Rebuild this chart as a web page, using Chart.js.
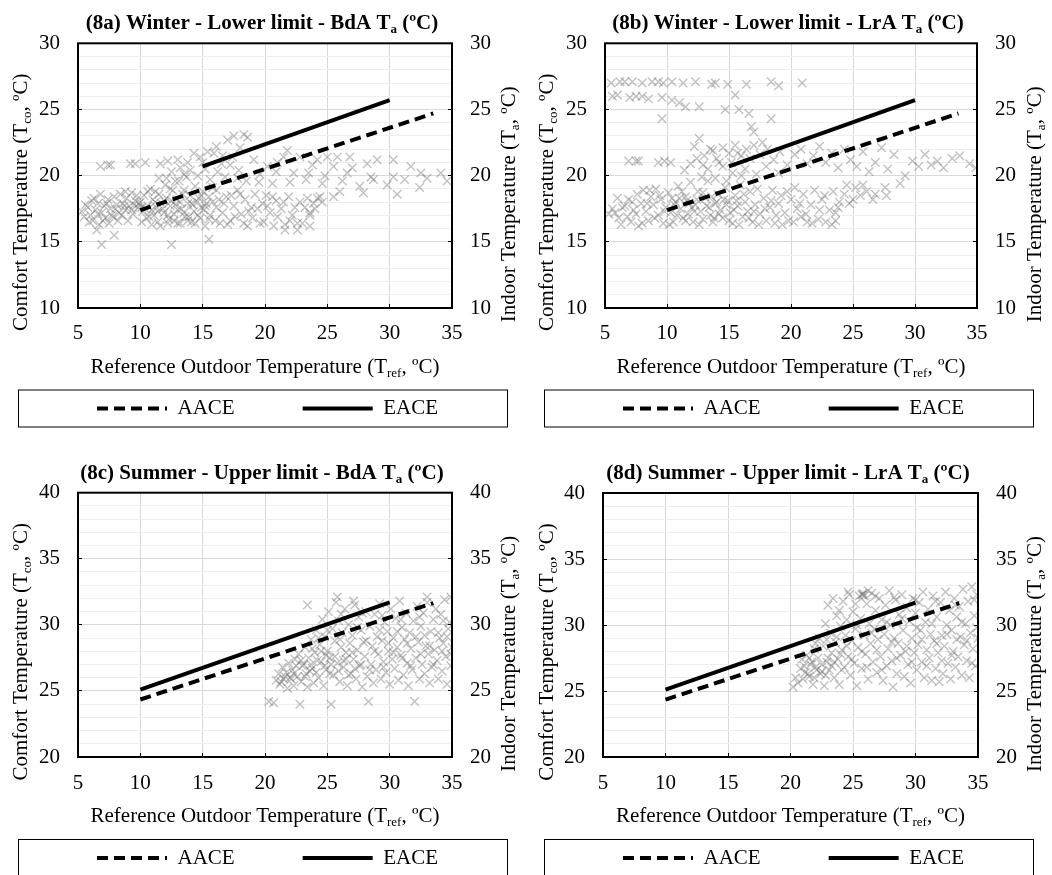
<!DOCTYPE html>
<html>
<head>
<meta charset="utf-8">
<script src="https://cdn.jsdelivr.net/npm/chart.js@4.4.0/dist/chart.umd.min.js"></script>
<style>
  html, body { margin: 0; padding: 0; background: #fff; width: 1052px; height: 875px; overflow: hidden; }
  canvas { position: absolute; }
</style>
</head>
<body>
<canvas id="c8a" width="526" height="437" style="left:0;top:0"></canvas>
<canvas id="c8b" width="526" height="437" style="left:526px;top:0"></canvas>
<canvas id="c8c" width="526" height="470" style="left:0;top:437px"></canvas>
<canvas id="c8d" width="526" height="470" style="left:526px;top:437px"></canvas>
<script>
// axis ranges / ticks
const xRange = [5, 35];
const winterRange = [10, 30];
const summerRange = [20, 40];
const seriesNames = ['AACE', 'EACE'];

// comfort limit lines (Tref, Tco)
const aaceWinter = [[10, 17.4], [33.5, 24.7]];
const eaceWinter = [[15, 20.7], [30, 25.7]];
const aaceSummer = [[10, 24.35], [33.5, 31.65]];
const eaceSummer = [[10, 25.1], [30, 31.7]];

const bdaWinter = [
  [5.3,17.3],[5.5,16.9],[5.8,17.6],[6.0,17.0],[6.2,16.6],[6.4,17.4],[6.6,17.9],[6.7,16.3],[6.9,17.2],[7.1,17.7],
  [7.2,16.8],[7.4,18.2],[7.6,17.5],[7.8,16.9],[7.9,18.4],[8.1,17.8],[8.3,17.2],[8.4,18.6],[8.6,17.9],[8.8,17.4],
  [8.9,18.3],[9.1,17.7],[9.3,18.7],[9.4,17.1],[9.6,18.1],[9.8,17.6],[6.1,18.1],[6.8,18.6],[7.5,16.4],[8.2,16.6],
  [6.5,15.9],[7.9,15.5],[6.9,14.8],[12.5,14.8],[15.5,15.2],[9.9,17.9],[9.5,17.8],[8.7,17.7],[10.1,17.6],
  [6.8,20.7],[7.4,20.8],[7.6,20.8],[9.2,20.9],[9.6,20.9],[10.4,21.0],[11.6,20.9],[12.2,21.1],[13.0,21.2],
  [10.0,18.0],[10.2,17.3],[10.3,18.5],[10.5,16.8],[10.6,17.7],[10.8,19.0],[11.0,18.2],[11.1,17.0],[11.3,17.6],[11.4,16.5],
  [11.5,18.6],[11.7,17.9],[11.9,17.2],[12.0,19.3],[12.1,18.3],[12.3,16.7],[12.4,17.7],[12.6,18.9],[12.7,17.1],[12.9,18.2],
  [13.0,16.4],[13.1,19.6],[13.3,17.5],[13.4,18.6],[13.6,16.9],[13.7,19.9],[13.8,17.9],[14.0,18.5],[14.1,16.5],[14.3,17.3],
  [14.4,19.2],[14.6,18.0],[14.8,16.8],[14.9,17.6],[15.0,18.8],[15.2,16.2],[15.3,17.9],[15.5,18.4],[15.6,17.0],[15.8,19.1],
  [16.0,16.6],[16.1,17.6],[16.3,18.2],[10.9,17.4],[11.8,17.5],[12.8,17.8],[13.5,17.2],[14.2,17.8],[14.7,18.3],[11.2,18.0],
  [10.7,16.9],[12.2,17.0],[13.9,16.9],[15.1,17.4],[12.5,18.1],[13.2,18.0],
  [5.6,17.8],[5.9,16.5],[6.3,18.3],[6.6,17.1],[7.0,16.6],[7.3,17.9],[7.7,17.0],[8.0,17.5],[8.5,17.0],[8.8,18.8],
  [9.0,16.6],[9.3,17.4],[9.7,18.5],[10.1,16.5],[10.4,17.5],[10.6,18.8],[10.9,16.3],[11.2,18.8],[11.4,17.3],[11.6,16.2],
  [11.9,18.1],[12.2,16.4],[12.4,19.0],[12.7,16.6],[13.0,17.4],[13.2,16.4],[13.5,18.9],[13.8,16.6],[14.1,17.9],[14.4,16.4],
  [14.6,17.0],[14.9,18.5],[15.2,17.7],[15.5,16.7],[15.8,18.0],[16.1,18.9],[16.4,16.4],[16.7,17.9],[17.0,16.3],[17.3,18.5],
  [17.6,16.9],[18.0,18.6],[18.3,16.4],[18.7,17.3],[19.0,16.8],[19.4,17.5],[19.9,16.5],[20.2,17.7],[20.6,18.4],[21.0,16.9],
  [21.5,18.0],[22.0,16.6],[22.4,17.6],[23.0,16.4],[23.4,18.3],[24.0,17.5],[24.6,18.0],
  [11.5,19.8],[12.1,19.8],[12.5,20.3],[13.2,20.6],[13.8,21.0],[14.3,21.7],[14.8,21.4],[15.2,20.5],[15.6,19.7],[15.9,21.7],
  [16.1,22.2],[16.5,20.9],[17.0,22.7],[17.5,23.0],[18.3,23.1],[16.8,19.9],[17.4,21.4],[17.9,20.4],[18.5,19.6],[19.1,21.2],
  [12.8,19.6],[13.5,20.1],[14.0,20.4],[14.6,20.0],[15.0,21.0],[15.4,21.8],[16.2,20.3],[16.6,21.5],[17.2,20.8],[18.0,22.1],
  [18.6,22.9],[17.8,19.8],[19.5,19.5],[20.9,20.3],[22.0,19.5],[23.5,20.2],[24.8,20.0],[26.2,19.6],[27.0,20.6],[28.5,19.9],
  [16.6,17.2],[16.9,18.4],[17.2,16.6],[17.5,17.7],[17.8,18.9],[18.1,17.1],[18.4,18.2],[18.6,16.2],[18.9,17.6],[19.2,18.6],
  [19.6,16.4],[19.8,17.9],[20.1,18.5],[20.4,17.2],[20.7,16.2],[20.9,18.1],[21.3,17.5],[21.6,15.9],[21.6,16.3],[21.9,18.4],
  [22.2,17.0],[22.6,15.9],[22.6,16.4],[22.8,18.0],[23.2,17.6],[23.6,16.2],[23.6,17.2],[23.6,17.0],[23.9,17.9],[24.2,18.3],
  [19.6,20.1],[20.2,20.7],[20.6,19.4],[21.0,21.0],[21.5,21.4],[21.8,21.9],[22.3,20.2],[22.8,21.4],[23.3,19.7],[23.8,20.8],
  [24.2,21.2],[24.6,19.4],[24.4,18.4],[25.0,21.4],[25.5,20.7],[25.5,18.4],[25.8,21.4],[26.0,18.8],[26.6,20.2],[26.8,21.4],
  [27.6,19.2],[27.9,18.7],[28.2,20.9],[28.7,19.7],[29.0,21.2],[29.8,19.3],[30.3,21.2],[30.3,19.9],[30.6,18.6],[31.2,19.7],
  [31.7,20.7],[32.4,19.1],[32.5,20.2],[33.0,19.8],[34.1,20.2],[34.6,19.6]
];

const lraWinter = [
  [5.5,27.0],[6.2,27.1],[6.6,27.1],[7.2,27.1],[8.0,27.0],[8.8,27.1],[9.3,27.1],[9.7,27.0],[10.4,27.1],[11.3,27.0],
  [12.3,27.1],[13.6,26.9],[13.9,27.0],[14.9,26.9],[16.4,26.9],[18.4,27.1],[19.0,26.8],[20.9,27.0],
  [5.6,26.0],[6.0,26.1],[7.0,25.9],[7.5,26.0],[8.0,26.0],[8.5,25.8],[9.6,25.9],[10.4,25.7],[11.0,25.5],[11.5,25.2],
  [12.6,25.2],[14.7,25.0],[15.8,25.0],[16.6,24.7],[9.6,24.3],[18.4,24.3],[16.8,23.7],[17.0,23.3],[15.5,26.1],
  [6.9,21.1],[7.5,21.1],[7.7,21.1],[9.3,21.0],[9.8,21.1],[10.3,21.0],
  [12.6,22.8],[12.2,22.2],[13.0,21.5],[13.5,22.0],[14.0,21.3],[14.5,22.1],[15.0,21.7],[15.5,22.3],[16.0,21.5],[16.4,22.0],
  [17.0,22.3],[17.5,21.6],[18.1,22.0],[18.6,21.2],[19.1,21.8],[19.7,20.8],[20.3,21.6],[20.8,22.0],[21.3,20.9],[21.8,21.5],
  [22.3,22.2],[22.8,21.0],[23.3,21.7],[23.8,20.6],[24.3,22.0],[24.8,21.2],[25.3,20.7],[25.8,21.8],[26.3,20.3],[26.8,21.0],
  [27.3,22.1],[27.8,20.5],[28.3,21.6],[28.8,19.4],[29.2,20.0],[29.8,21.1],[30.3,20.7],[30.8,21.6],[31.3,20.8],[31.8,21.1],
  [32.3,20.6],[33.0,21.3],[33.6,21.5],[34.4,20.9],[34.9,20.6],
  [11.4,20.4],[11.9,20.9],[12.8,19.9],[13.3,20.5],[13.9,19.8],[14.5,20.7],[15.3,20.2],[16.3,20.5],[17.2,20.1],[18.0,20.7],[19.0,20.2],
  [12.4,21.3],[13.7,21.9],[14.2,21.0],[15.2,21.0],[15.7,21.7],[16.7,21.3],[17.7,22.5],[12.9,20.8],[14.8,19.6],[16.0,20.0],
  [5.3,17.1],[5.8,17.2],[6.1,16.8],[6.4,17.6],[6.6,17.7],[6.9,18.2],[7.1,16.5],[7.3,17.4],[7.6,18.6],[7.7,16.2],
  [7.9,17.9],[8.1,18.9],[8.3,17.3],[8.5,16.6],[8.7,18.4],[8.9,17.8],[9.1,19.0],[9.3,17.0],[9.5,18.2],[9.7,16.4],[9.9,17.6],
  [10.1,18.7],[10.3,17.2],[10.5,16.5],[10.7,18.0],[10.9,19.2],[11.1,17.5],[11.3,16.8],[11.5,18.4],[11.7,17.1],[11.9,19.5],
  [12.1,16.5],[12.3,17.8],[12.5,18.8],[12.7,17.3],[12.9,16.7],[13.1,18.3],[13.3,19.6],[13.5,17.0],[13.7,16.5],[13.9,17.9],
  [14.1,18.6],[14.3,17.4],[14.5,16.8],[14.7,19.1],[14.9,18.1],[15.1,17.2],[15.3,16.4],[15.5,18.5],[15.7,17.7],[15.9,19.3],
  [16.1,16.9],[16.3,18.0],[16.5,17.3],[16.7,18.8],[16.9,16.5],[17.1,17.8],[17.3,19.0],[17.5,17.1],[17.8,18.3],[18.0,16.6],
  [18.3,17.6],[18.5,18.9],[18.7,16.4],[19.0,17.9],[19.2,18.5],[19.5,17.2],[19.8,16.6],[20.0,18.2],[20.3,19.1],[20.5,17.5],
  [20.8,16.9],[21.0,18.6],[21.3,16.5],[21.6,17.8],[21.9,18.9],[22.2,16.7],[22.5,18.2],[22.8,16.5],[23.1,17.4],[23.4,18.8],
  [23.6,16.6],[23.6,17.2],[23.9,18.0],[24.3,18.6],[24.7,17.9],[25.2,19.1],[25.6,18.5],[26.1,18.8],[26.6,18.2],[27.6,19.1],[27.7,18.5],
  [10.6,17.8],[11.6,18.1],[12.4,18.2],[13.2,17.7],[14.0,18.0],[14.8,17.8],[15.6,18.1],[11.0,18.3],[12.0,17.6],[13.6,18.4],
  [5.6,17.5],[6.0,18.3],[6.3,16.3],[6.8,16.9],[7.2,18.0],[7.5,17.1],[8.0,16.4],[8.4,17.9],[8.6,18.9],[9.0,16.8],
  [9.4,18.5],[9.8,17.3],[10.2,16.3],[10.4,18.3],[10.8,17.0],[11.2,18.8],[11.5,16.6],[11.8,17.9],[12.2,17.3],[12.6,16.3],
  [12.9,18.7],[13.4,17.6],[13.8,16.8],[14.2,17.1],[14.6,18.2],[15.0,16.6],[15.4,17.4],[15.8,16.3],[16.2,18.6],[16.6,16.8],
  [17.0,17.3],[17.4,16.3],[17.9,17.5],[18.4,18.1],[18.8,17.0],[19.3,16.3],[19.7,18.8],[20.2,16.5],[20.7,17.9],[21.2,17.1],
  [21.7,16.4],[22.3,17.4],[22.7,18.5],[23.3,16.3],[23.8,17.6],[24.5,19.3],[25.0,18.2],[25.8,19.3],[26.8,18.6]
];

const bdaSummer = [
  [20.3,24.2],[20.7,24.1],[20.9,25.8],[21.1,26.3],[21.2,25.5],[21.4,26.8],[21.5,25.9],[21.7,26.4],[21.8,25.2],[21.9,27.1],
  [22.0,26.0],[22.2,26.6],[22.3,25.4],[22.4,27.4],[22.6,26.1],[22.8,24.0],[22.7,27.8],[22.9,25.7],[23.0,26.9],[23.2,28.3],
  [23.3,26.3],[23.4,25.3],[23.5,27.5],[23.7,28.9],[23.8,26.7],[23.9,25.6],[24.0,27.9],[24.1,29.6],[24.3,26.0],[24.4,28.5],
  [24.5,27.2],[24.6,30.4],[24.7,25.4],[24.8,29.1],[24.9,26.6],[25.0,28.0],[25.1,31.0],[25.2,27.5],[25.3,24.0],[25.4,29.7],
  [25.5,26.2],[25.6,28.8],[25.7,31.7],[25.8,27.1],[25.9,30.3],[26.0,25.7],[26.1,28.3],[26.2,29.4],[26.3,26.8],[26.4,31.2],
  [26.5,27.9],[26.6,25.4],[26.7,30.0],[26.8,28.6],[26.9,26.3],[27.0,29.2],[27.1,27.4],[27.2,31.5],[27.3,25.9],[27.4,28.1],
  [27.5,30.6],[27.6,26.9],[27.7,29.6],[27.8,25.3],[27.9,28.7],[28.0,27.6],[28.1,31.0],[28.2,26.1],[28.3,24.2],[28.4,29.9],
  [28.5,27.0],[28.6,28.4],[28.7,25.6],[28.8,30.8],[28.9,26.6],[29.0,29.1],[29.1,27.8],[29.2,31.6],[29.3,25.9],[29.4,28.8],
  [29.5,27.2],[29.6,30.2],[29.7,26.4],[29.8,29.5],[29.9,28.0],[30.0,25.5],[30.1,31.2],[30.2,27.4],[30.3,29.0],[30.4,26.7],
  [30.5,30.5],[30.6,28.3],[30.7,25.8],[30.8,31.8],[30.9,27.7],[31.0,29.8],[31.1,26.2],[31.2,28.9],[31.3,30.9],[31.4,27.1],
  [31.5,25.4],[31.6,29.4],[31.7,28.2],[31.8,26.6],[31.9,30.3],[32.0,24.2],[32.1,27.5],[32.2,31.4],[32.3,28.7],[32.4,25.9],
  [32.5,29.9],[32.6,27.0],[32.7,30.9],[32.8,26.3],[32.9,28.4],[33.0,31.7],[33.1,27.8],[33.2,25.6],[33.3,29.5],[33.4,26.8],
  [33.5,30.4],[33.6,28.1],[33.7,31.2],[33.8,27.3],[33.9,25.9],[34.0,29.0],[34.1,30.8],[34.2,26.5],[34.3,28.6],[34.4,31.9],
  [34.5,27.6],[34.6,25.5],[34.7,29.7],[34.8,30.2],[34.9,26.9],[35.0,28.3],
  [22.5,26.9],[23.1,27.0],[23.6,26.5],[24.2,27.3],[24.8,26.9],[25.3,27.0],[25.9,26.5],[26.5,27.4],[27.2,26.7],[22.1,25.9],
  [21.6,26.1],[21.3,25.7],[25.8,32.1],[27.1,31.8],[23.4,31.5],[33.0,32.1],[34.9,32.1],
  [22.3,26.3],[22.9,27.3],[23.2,26.1],[23.7,27.0],[24.1,26.4],[24.5,28.0],[24.9,27.7],[25.2,26.3],[25.6,27.6],[26.0,28.9],
  [26.3,27.3],[26.7,26.2],[27.0,27.9],[27.4,29.8],[27.7,27.0],[28.1,28.8],[28.4,26.6],[28.8,28.0],[29.2,29.6],[29.5,26.8],
  [29.9,28.6],[30.3,27.9],[30.6,29.5],[31.0,27.5],[31.4,28.6],[31.7,26.9],[32.1,29.1],[32.5,27.8],[32.8,29.2],[33.2,28.4],
  [33.5,27.0],[33.9,29.4],[34.2,28.0],[34.6,29.1],[34.9,27.8],[26.1,30.8],[27.8,30.9],[29.4,30.7],[30.9,30.4],[32.4,30.6],
  [34.3,30.3],[24.3,29.0],[25.0,29.6],[23.8,28.2]
];

const lraSummer = [
  [20.2,25.3],[20.4,26.0],[20.6,25.6],[20.8,26.7],[20.9,27.4],[21.0,25.9],[21.2,26.4],[21.3,27.7],[21.5,26.1],[21.6,27.0],
  [21.8,25.5],[21.9,28.2],[22.0,26.8],[22.2,27.5],[22.3,29.0],[22.4,26.3],[22.6,28.4],[22.7,25.4],[22.8,30.1],[22.9,27.2],
  [23.0,31.5],[23.1,26.6],[23.2,29.4],[23.3,27.9],[23.4,32.0],[23.5,26.0],[23.6,28.7],[23.7,30.7],[23.8,27.4],[23.9,25.5],
  [24.0,29.9],[24.1,28.1],[24.2,31.8],[24.3,26.8],[24.4,29.2],[24.5,30.4],[24.6,27.6],[24.7,32.3],[24.8,26.2],[24.9,28.8],
  [25.0,31.0],[25.1,27.1],[25.2,29.7],[25.3,25.4],[25.4,28.3],[25.5,32.2],[25.6,30.5],[25.7,26.7],[25.8,32.3],[25.9,29.2],
  [26.0,27.8],[26.1,31.6],[26.2,25.9],[26.3,30.1],[26.4,28.6],[26.5,32.4],[26.6,27.2],[26.7,29.7],[26.8,31.1],[26.9,26.4],
  [27.0,28.9],[27.1,32.0],[27.2,27.6],[27.3,30.4],[27.4,25.8],[27.5,29.3],[27.6,31.5],[27.7,26.9],[27.8,28.2],[27.9,32.6],
  [28.0,30.0],[28.1,27.3],[28.2,25.3],[28.3,29.0],[28.4,31.9],[28.5,26.3],[28.6,28.6],[28.7,30.8],[28.8,27.7],[28.9,32.3],
  [29.0,29.6],[29.1,26.1],[29.2,28.0],[29.3,31.3],[29.4,27.0],[29.5,30.3],[29.6,25.6],[29.7,29.0],[29.8,32.0],[29.9,27.9],
  [30.0,30.9],[30.1,26.6],[30.2,28.5],[30.3,31.7],[30.4,29.6],[30.5,27.2],[30.6,32.5],[30.7,26.0],[30.8,30.2],[30.9,28.1],
  [31.0,31.2],[31.1,27.5],[31.2,29.3],[31.3,25.8],[31.4,32.2],[31.5,28.8],[31.6,26.7],[31.7,30.6],[31.8,27.9],[31.9,25.7],
  [32.0,31.7],[32.1,29.2],[32.2,26.3],[32.3,28.4],[32.4,32.5],[32.5,30.0],[32.6,27.1],[32.7,31.1],[32.8,25.9],[32.9,29.6],
  [33.0,28.0],[33.1,32.0],[33.2,26.8],[33.3,30.6],[33.4,27.6],[33.5,31.4],[33.6,29.1],[33.7,26.2],[33.8,32.7],[33.9,28.5],
  [34.0,30.1],[34.1,27.3],[34.2,31.8],[34.3,26.0],[34.4,29.4],[34.5,32.9],[34.6,28.2],[34.7,30.7],[34.8,26.9],[34.9,32.3],[35.0,29.0],
  [25.7,32.3],[25.9,32.2],[25.8,32.4],
  [21.1,26.9],[21.4,26.3],[21.7,27.2],[22.1,26.6],[21.9,26.0],[22.5,27.0],[23.0,27.5],[23.5,27.2],[24.0,27.8],[22.8,26.2],
  [21.5,27.5],[22.0,28.6],[22.5,26.5],[22.9,28.9],[23.3,26.9],[23.7,29.1],[24.1,26.6],[24.5,28.4],[24.9,27.4],[25.3,30.0],
  [25.7,28.0],[26.1,26.8],[26.5,29.4],[26.9,28.1],[27.3,26.6],[27.7,30.2],[28.1,28.7],[28.5,27.5],[28.9,30.5],[29.3,28.4],
  [29.7,27.2],[30.1,29.8],[30.5,28.9],[30.9,26.9],[31.3,30.1],[31.7,28.6],[32.1,27.3],[32.5,29.3],[32.9,27.7],[33.3,28.9],
  [33.7,30.2],[34.1,28.8],[34.5,27.1],[34.9,29.8],[23.9,31.1],[25.2,31.6],[26.8,32.2],[28.3,32.1],[30.0,31.9],[31.6,31.8],
  [33.2,31.5],[34.7,31.9],[24.6,32.5],[26.2,32.6]
];

const panelTitles = [
  ['(8a) Winter - Lower limit - BdA T', 'a', ' (ºC)'],
  ['(8b) Winter - Lower limit - LrA T', 'a', ' (ºC)'],
  ['(8c) Summer - Upper limit - BdA T', 'a', ' (ºC)'],
  ['(8d) Summer - Upper limit - LrA T', 'a', ' (ºC)']
];

const FONT = "'Liberation Serif', 'Times New Roman', serif";
const FS = 21;
Chart.defaults.font.family = FONT;
Chart.defaults.color = '#000';

// draw text with one subscript part, centred on (x, y)
function richText(ctx, parts, x, y, size, bold, angle) {
  const f = s => (bold ? 'bold ' : '') + s + 'px ' + FONT;
  const subSize = size * 0.62;
  ctx.save();
  ctx.translate(x, y);
  ctx.rotate(angle || 0);
  ctx.fillStyle = '#000';
  ctx.textBaseline = 'alphabetic';
  ctx.textAlign = 'left';
  let total = 0;
  const widths = parts.map((p, i) => {
    ctx.font = f(i === 1 ? subSize : size);
    const w = ctx.measureText(p).width;
    total += w;
    return w;
  });
  let cx = -total / 2;
  const base = size * 0.33;
  parts.forEach((p, i) => {
    ctx.font = f(i === 1 ? subSize : size);
    ctx.fillText(p, cx, i === 1 ? base + size * 0.2 : base);
    cx += widths[i];
  });
  ctx.restore();
}

function makePanel(id, cfg) {
  const W = 526, H = cfg.height;
  const [aL, aR, aT, aB] = cfg.area;
  const legendPad = 68;
  const shift = 9; // moves the legend row right
  const legendTop = cfg.legendY - legendPad - FS / 2;
  const legendBottom = legendTop + FS + legendPad + 10;
  const xAxisH = legendTop - aB;

  const decor = {
    id: 'decor',
    afterDatasetsDraw(chart) {
      const ctx = chart.ctx, a = chart.chartArea;
      ctx.save();
      ctx.strokeStyle = '#000';
      ctx.lineWidth = 2;
      ctx.strokeRect(a.left, a.top, a.right - a.left, a.bottom - a.top);
      ctx.restore();
    },
    afterDraw(chart) {
      const ctx = chart.ctx, a = chart.chartArea;
      richText(ctx, cfg.title, 262, aT - 21, FS, true, 0);
      richText(ctx, ['Reference Outdoor Temperature (T', 'ref', ', ºC)'], (a.left + a.right) / 2, aB + 58, FS, false, 0);
      richText(ctx, ['Comfort Temperature (T', 'co', ', ºC)'], 20, aT + 159, FS, false, -Math.PI / 2);
      richText(ctx, ['Indoor Temperature (T', 'a', ', ºC)'], 508, aT + 161, FS, false, -Math.PI / 2);
      ctx.save();
      ctx.strokeStyle = '#000';
      ctx.lineWidth = 1;
      ctx.strokeRect(18.5, cfg.legendY - 18.5, 489, 37);
      ctx.restore();
    }
  };

  const lineSet = (label, pts, dash) => ({
    label: label,
    data: pts.map(p => ({x: p[0], y: p[1]})),
    showLine: true,
    borderColor: '#000',
    backgroundColor: '#000',
    borderWidth: 4,
    borderDash: dash,
    pointRadius: 0,
    yAxisID: 'y'
  });

  new Chart(document.getElementById(id), {
    type: 'scatter',
    data: {
      datasets: [
        lineSet(seriesNames[0], cfg.aace, [11, 6]),
        lineSet(seriesNames[1], cfg.eace, []),
        {
          label: 'Ta',
          data: cfg.points.map(p => ({x: p[0], y: p[1]})),
          pointStyle: 'crossRot',
          pointRadius: 6,
          borderWidth: 1.4,
          borderColor: 'rgba(110,110,110,0.42)',
          backgroundColor: 'rgba(110,110,110,0.42)',
          yAxisID: 'y2'
        }
      ]
    },
    options: {
      responsive: false,
      animation: false,
      devicePixelRatio: 1,
      layout: { padding: { top: aT, bottom: H - legendBottom, left: shift, right: 0 } },
      plugins: {
        title: { display: false },
        tooltip: { enabled: false },
        legend: {
          position: 'bottom',
          labels: {
            usePointStyle: true,
            pointStyle: 'line',
            pointStyleWidth: 70,
            padding: legendPad,
            color: '#000',
            font: { size: FS },
            filter: item => item.datasetIndex < 2,
            generateLabels: chart => Chart.defaults.plugins.legend.labels.generateLabels(chart).map(it =>
              Object.assign(it, { lineDash: chart.data.datasets[it.datasetIndex].borderDash || [], lineWidth: 4 }))
          }
        }
      },
      scales: {
        x: {
          type: 'linear',
          min: xRange[0], max: xRange[1],
          afterFit: s => { s.height = xAxisH; },
          border: { display: false },
          grid: { color: '#d9d9d9', tickColor: '#000', tickLength: -4, lineWidth: 1 },
          ticks: { stepSize: 5, mirror: true, padding: cfg.xPad, font: { size: FS }, color: '#000', maxRotation: 0 }
        },
        y: {
          type: 'linear',
          position: 'left',
          min: cfg.yRange[0], max: cfg.yRange[1],
          afterFit: s => { s.width = aL - shift; },
          border: { display: false },
          grid: {
            color: c => (c.tick && c.tick.value % 5 === 0) ? '#d9d9d9' : '#efefef',
            tickColor: c => (c.tick && c.tick.value % 5 === 0) ? '#000' : 'rgba(0,0,0,0)',
            tickLength: -4
          },
          ticks: {
            stepSize: 1, maxTicksLimit: 100, autoSkip: false, padding: 22,
            font: { size: FS }, color: '#000',
            callback: v => (v % 5 === 0 ? v : '')
          }
        },
        y2: {
          type: 'linear',
          position: 'right',
          min: cfg.yRange[0], max: cfg.yRange[1],
          afterFit: s => { s.width = W - aR; },
          border: { display: false },
          grid: { drawOnChartArea: false, tickColor: '#000', tickLength: -4 },
          ticks: { stepSize: 5, padding: 22, font: { size: FS }, color: '#000' }
        }
      }
    },
    plugins: [decor]
  });
}

makePanel('c8a', { height: 437, area: [78, 452, 43.3, 308], legendY: 408.5, xPad: -37.6,
  title: panelTitles[0], yRange: winterRange, points: bdaWinter, aace: aaceWinter, eace: eaceWinter });
makePanel('c8b', { height: 437, area: [79, 451, 43.3, 308], legendY: 408.5, xPad: -37.6,
  title: panelTitles[1], yRange: winterRange, points: lraWinter, aace: aaceWinter, eace: eaceWinter });
makePanel('c8c', { height: 470, area: [78, 452, 55.7, 320], legendY: 421, xPad: -38.6,
  title: panelTitles[2], yRange: summerRange, points: bdaSummer, aace: aaceSummer, eace: eaceSummer });
makePanel('c8d', { height: 470, area: [77, 452, 56, 320], legendY: 421, xPad: -38.6,
  title: panelTitles[3], yRange: summerRange, points: lraSummer, aace: aaceSummer, eace: eaceSummer });
</script>
</body>
</html>
